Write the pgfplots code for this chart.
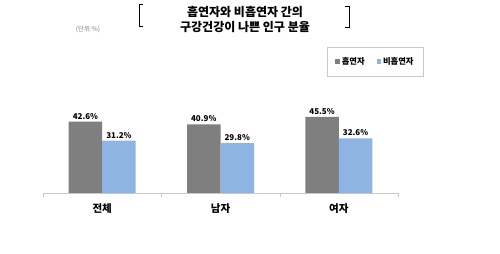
\documentclass[border=0pt]{standalone}
\usepackage{fontspec}
\setmainfont{Noto Sans CJK KR}
\usepackage{pgfplots}
\pgfplotsset{compat=1.18}
\definecolor{smk}{HTML}{7F7F7F}
\definecolor{nsmk}{HTML}{8EB4E3}
\definecolor{axgray}{HTML}{C8C8C8}
\begin{document}
\begin{tikzpicture}[x=1pt,y=1pt]
\fill[white] (0,0) rectangle (500,254);
\useasboundingbox (0,0) rectangle (500,254);
\node[font=\bfseries\fontsize{12}{15}\selectfont, align=center] at (245,234.5) {흡연자와 비흡연자 간의\\구강건강이 나쁜 인구 분율};
\draw[black, line width=0.8pt] (143,250) -- (139,250) -- (139,228) -- (143,228);
\draw[black, line width=0.8pt] (345,248) -- (349,248) -- (349,227) -- (345,227);
\node[font=\fontsize{6.5}{7}\selectfont, text=gray] at (88,225) {(단위:\%)};
\begin{axis}[at={(43pt,61pt)}, anchor=south west, scale only axis,
  width=355pt, height=100.5pt,
  /pgf/number format/assume math mode=true,
  ymin=0, ymax=60, xmin=-0.5, xmax=2.5,
  ybar=0pt, bar width=33.5pt,
  hide y axis, axis x line=bottom,
  x axis line style={draw=axgray, -},
  xtick={0,1,2}, xticklabels={전체,남자,여자},
  major tick length=0pt,
  minor xtick={-0.5,0.5,1.5,2.5}, minor tick length=4pt,
  xtick align=outside,
  minor x tick style={draw=axgray},
  xticklabel style={font=\bfseries\fontsize{10.5}{12}\selectfont, yshift=-7pt},
  nodes near coords={\pgfmathprintnumber[fixed,fixed zerofill,precision=1,assume math mode=true]{\pgfplotspointmeta}\%},
  every node near coord/.append style={font=\bfseries\fontsize{8}{9}\selectfont, yshift=-1pt},
  legend columns=2,
  legend style={at={(0.9366,1.308)}, anchor=center, draw=axgray,
    font=\bfseries\fontsize{8.3}{10}\selectfont,
    /tikz/every even column/.append style={column sep=10pt},
    inner xsep=8pt, inner ysep=8pt},
  legend image code/.code={\fill[#1] (0pt,-2.2pt) rectangle (4.4pt,2.2pt);},
]
\addplot[fill=smk, draw=none] coordinates {(0,42.6) (1,40.9) (2,45.5)};
\addplot[fill=nsmk, draw=none] coordinates {(0,31.2) (1,29.8) (2,32.6)};
\legend{흡연자, 비흡연자}
\end{axis}
\end{tikzpicture}
\end{document}
